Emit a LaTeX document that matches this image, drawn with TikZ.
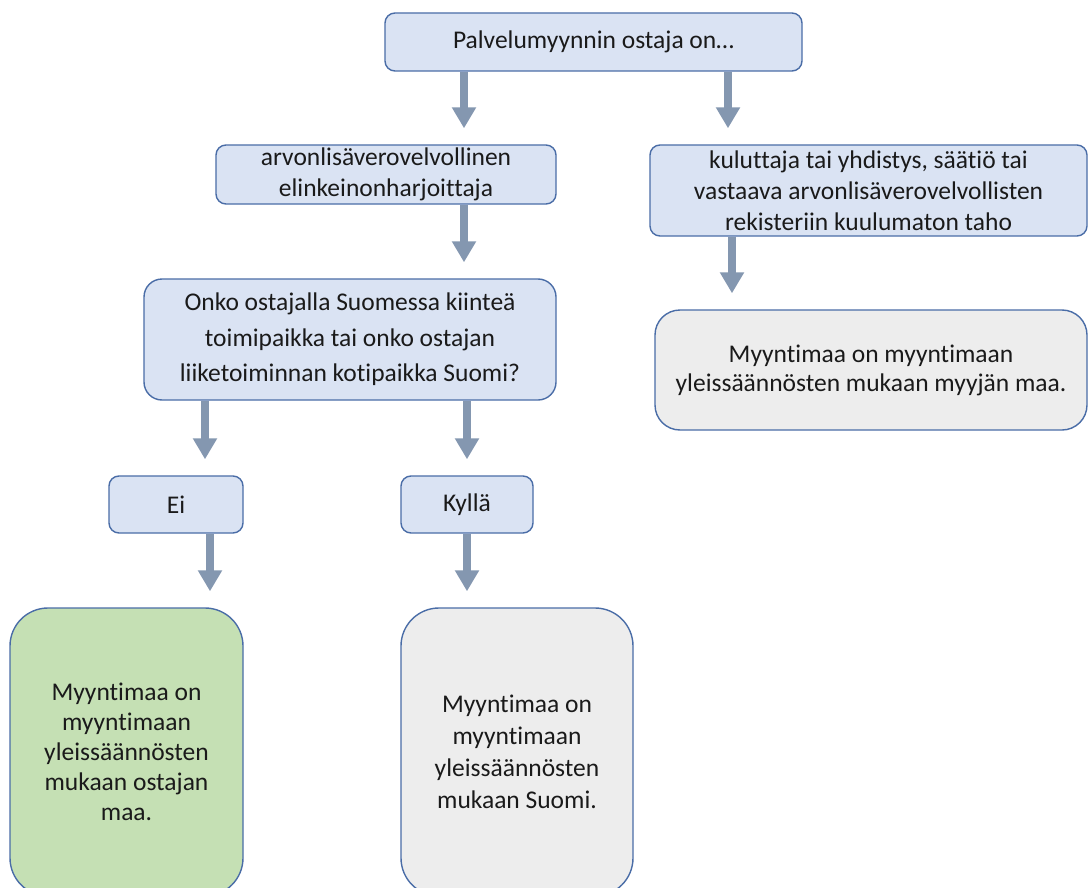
\documentclass[tikz,border=0pt]{standalone}
\usepackage{fontspec}
\setmainfont{Carlito}[Ligatures=NoCommon]
\usetikzlibrary{arrows.meta}
\definecolor{boxblue}{HTML}{DAE3F3}
\definecolor{boxedge}{HTML}{4A6DA7}
\definecolor{boxgrey}{HTML}{EDEDED}
\definecolor{boxgreen}{HTML}{C5E0B4}
\definecolor{flow}{HTML}{8497B0}
\definecolor{ink}{HTML}{1A1A1A}
\tikzset{
  box/.style={draw=boxedge, line width=1.4pt, fill=boxblue, text=ink,
    inner sep=0pt, align=center, rounded corners=10pt,
    font=\fontsize{25.5}{31}\selectfont},
  result/.style={box, fill=boxgrey},
  flowarrow/.style={draw=flow, line width=8pt,
    -{Triangle[width=23pt,length=21pt]}, shorten >=16pt}
}
\begin{document}
\begin{tikzpicture}[x=1pt,y=-1pt]
  \useasboundingbox (0,0) rectangle (1089,888);
  \clip (0,0) rectangle (1089,888);
  \fill[white] (0,0) rectangle (1089,888);

  % question and branches
  \node[box, minimum width=417pt, minimum height=58pt] (buyer) at (593.5,42)
    {Palvelumyynnin ostaja on…};
  \node[box, minimum width=340pt, minimum height=59pt] (taxable) at (386,174.5)
    {arvonlisäverovelvollinen\\elinkeinonharjoittaja};
  \node[box, minimum width=437pt, minimum height=91pt] (consumer) at (868.5,190.5)
    {kuluttaja tai yhdistys, säätiö tai\\vastaava arvonlisäverovelvollisten\\rekisteriin kuulumaton taho};
  \node[box, rounded corners=18pt, minimum width=412pt, minimum height=121pt,
    font=\fontsize{25.5}{35.5}\selectfont] (establish) at (350,339.5)
    {Onko ostajalla Suomessa kiinteä\\toimipaikka tai onko ostajan\\liiketoiminnan kotipaikka Suomi?};
  \node[result, rounded corners=25pt, minimum width=432pt, minimum height=120pt,
    font=\fontsize{25.5}{29}\selectfont] (seller) at (871,370)
    {Myyntimaa on myyntimaan\\yleissäännösten mukaan myyjän maa.};
  \node[box, minimum width=134pt, minimum height=57pt] (no) at (176,504.5) {Ei};
  \node[box, minimum width=132pt, minimum height=57pt] (yes) at (467,504.5) {Kyllä};

  % outcomes
  \node[result, fill=boxgreen, rounded corners=38pt, minimum width=233pt,
    minimum height=288pt, font=\fontsize{25.5}{30}\selectfont] (abroad) at (126.5,752)
    {Myyntimaa on\\myyntimaan\\yleissäännösten\\mukaan ostajan\\maa.};
  \node[result, rounded corners=38pt, minimum width=232pt, minimum height=288pt,
    font=\fontsize{25.5}{32}\selectfont] (finland) at (517,752)
    {Myyntimaa on\\myyntimaan\\yleissäännösten\\mukaan Suomi.};

  % flow arrows
  \draw[flowarrow] (buyer.south -| 464,0) -- (taxable.north -| 464,0);
  \draw[flowarrow] (buyer.south -| 728,0) -- (consumer.north -| 728,0);
  \draw[flowarrow] (taxable.south -| 464,0) -- (establish.north -| 464,0);
  \draw[flowarrow] (consumer.south -| 732,0) -- (seller.north -| 732,0);
  \draw[flowarrow] (establish.south -| 205,0) -- (no.north -| 205,0);
  \draw[flowarrow] (establish.south -| 467,0) -- (yes.north -| 467,0);
  \draw[flowarrow] (no.south -| 210,0) -- (abroad.north -| 210,0);
  \draw[flowarrow] (yes.south -| 467,0) -- (finland.north -| 467,0);
\end{tikzpicture}
\end{document}
